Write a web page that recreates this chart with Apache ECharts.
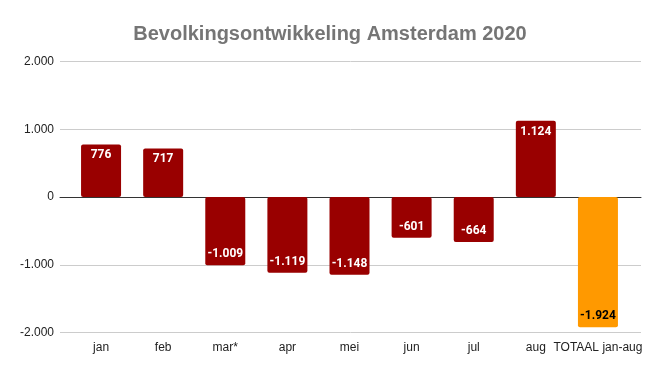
<!DOCTYPE html>
<html><head><meta charset="utf-8">
<script src="https://cdn.jsdelivr.net/npm/echarts@6/dist/echarts.min.js"></script>
<style>html,body{margin:0;padding:0;background:#fff}#c{width:658px;height:371px}</style>
</head><body><div id="c"></div>
<script>
const categories = ['jan','feb','mar*','apr','mei','jun','jul','aug','TOTAAL jan-aug'];
const values = [776, 717, -1009, -1119, -1148, -601, -664, 1124, -1924];
const barColors = ['#990000','#990000','#990000','#990000','#990000','#990000','#990000','#990000','#ff9900'];
const labelColors = ['#fff','#fff','#fff','#fff','#fff','#fff','#fff','#fff','#000'];
const yMin = -2000, yMax = 2000, yInterval = 1000;

function fmt(v){
  const s = Math.abs(v).toString().replace(/\B(?=(\d{3})+(?!\d))/g,'.');
  return (v<0?'-':'')+s;
}
const chart = echarts.init(document.getElementById('c'));
chart.setOption({
  animation:false,
  title:{text:'Bevolkingsontwikkeling Amsterdam 2020',left:325,textAlign:'center',top:19,
    textStyle:{fontFamily:'Liberation Sans, Arial',fontWeight:'bold',fontSize:20,color:'#757575'}},
  grid:[
    {left:60,right:17,top:61.5,height:271},
    {left:70,right:29,top:61.5,height:271}
  ],
  xAxis:[
    {gridIndex:0,type:'category',data:categories,axisLine:{onZero:true,lineStyle:{color:'#333',width:1}},axisTick:{show:false},axisLabel:{show:false}},
    {gridIndex:1,type:'category',data:categories,position:'bottom',axisLine:{show:false},axisTick:{show:false},
      axisLabel:{color:'#222',fontFamily:'Liberation Sans, Arial',fontSize:12,margin:9,interval:0}}
  ],
  yAxis:[
    {gridIndex:0,type:'value',min:yMin,max:yMax,interval:yInterval,axisLine:{show:false},axisTick:{show:false},
      splitLine:{lineStyle:{color:'#ccc'}},
      axisLabel:{formatter:fmt,color:'#222',fontFamily:'Liberation Sans, Arial',fontSize:12,margin:6}},
    {gridIndex:1,type:'value',min:yMin,max:yMax,interval:yInterval,show:false,splitLine:{show:false}}
  ],
  series:[{
    type:'bar',xAxisIndex:1,yAxisIndex:1,barWidth:40,
    data:values.map((v,i)=>({value:v,
      itemStyle:{color:barColors[i],borderRadius:2},
      label:{show:true,position:v>=0?'insideTop':'insideBottom',distance:5,color:labelColors[i],
        fontFamily:'Roboto',fontWeight:'bold',fontSize:12,formatter:()=>fmt(v)}}))
  }]
});
</script></body></html>
